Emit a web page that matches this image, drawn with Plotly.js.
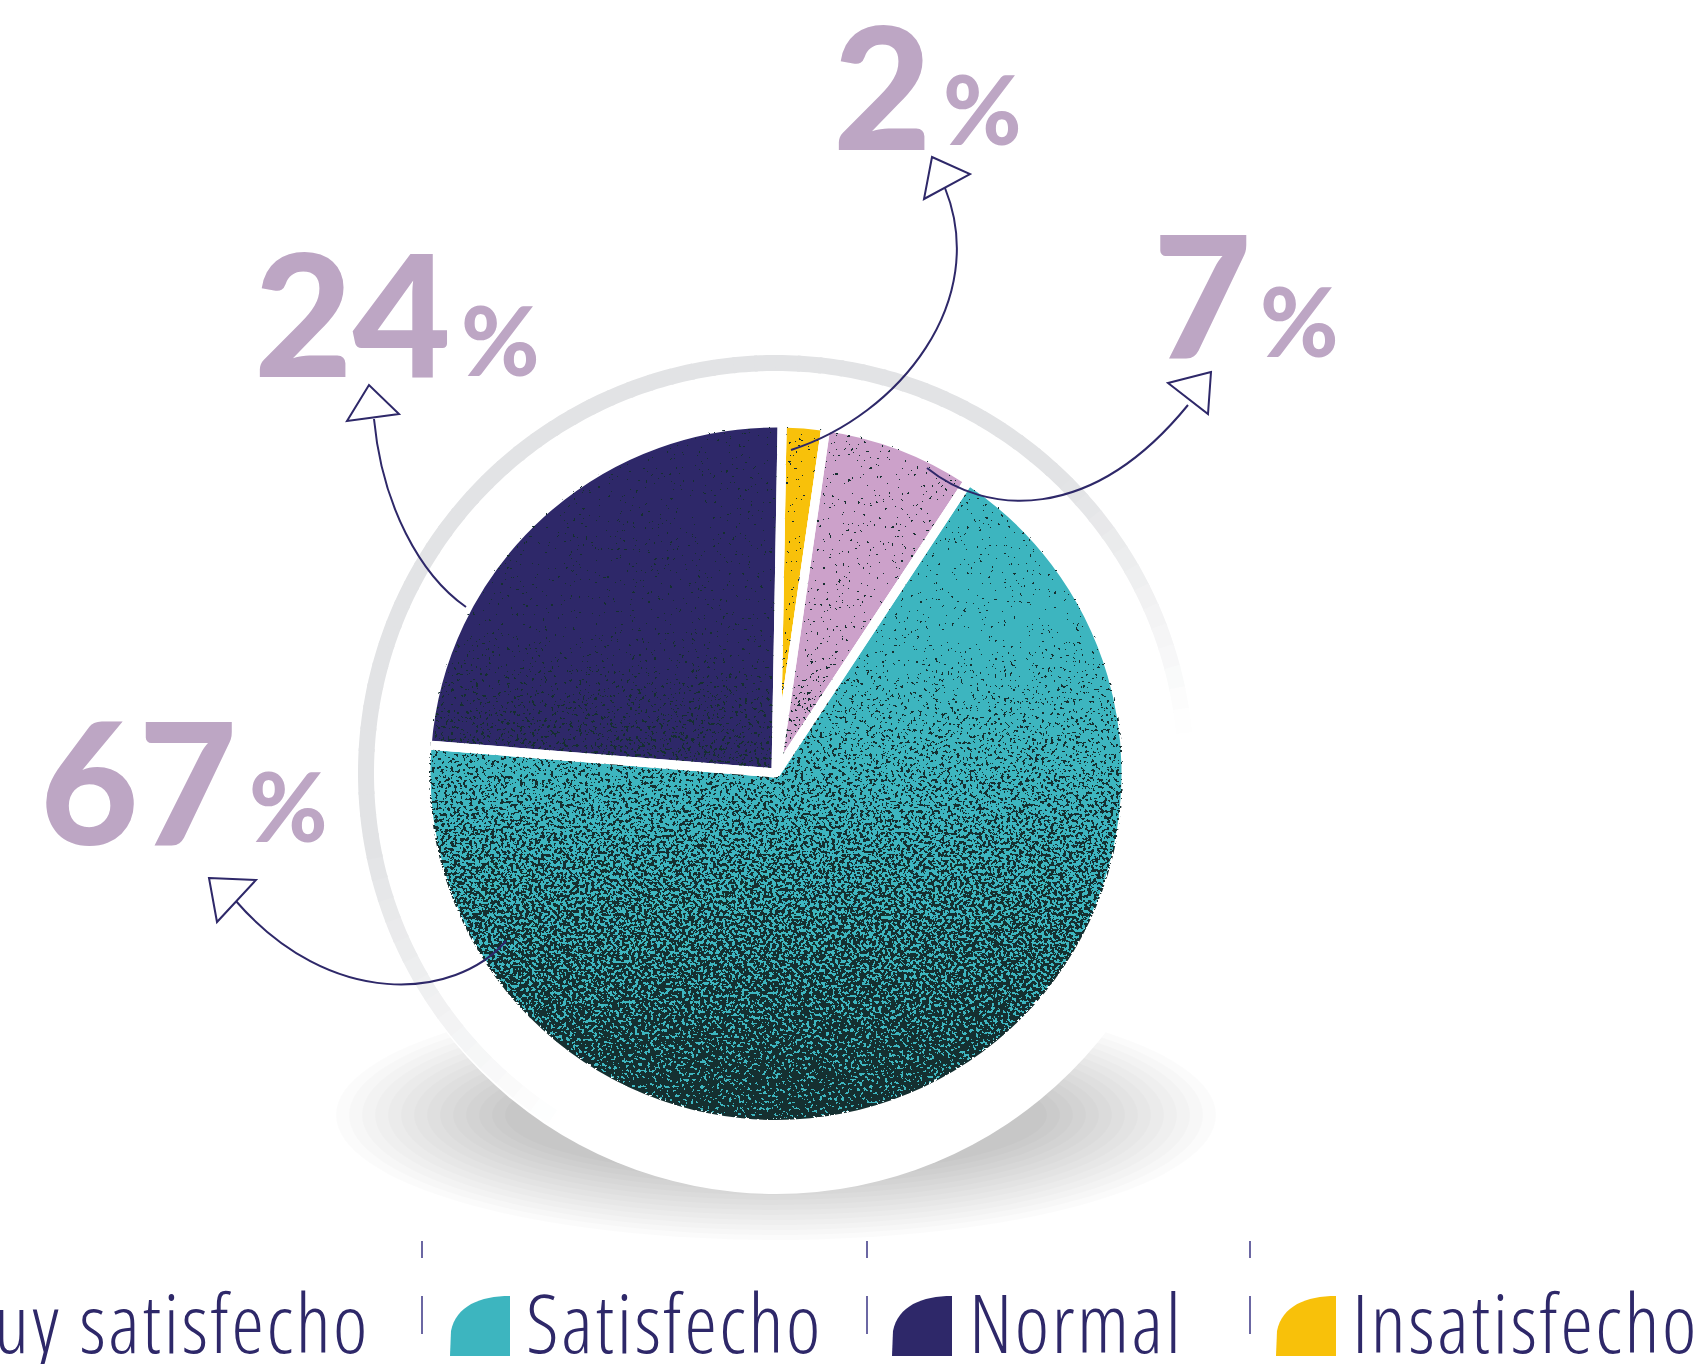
<!DOCTYPE html>
<html><head><meta charset="utf-8">
<script src="https://cdn.plot.ly/plotly-3.0.1.min.js"></script>
<style>html,body{margin:0;padding:0;background:#fff;}#chart{width:1700px;height:1364px;}</style>
</head><body><div id="chart"></div>
<script>
// ---- data ----
const categories = ['Insatisfecho', 'Muy satisfecho', 'Satisfecho', 'Normal'];
const shares = [2, 7, 67, 24];
const sliceColors = ['#F8C10A', '#CCA1CA', '#3DB5BF', '#2E2869'];
const valueLabels = ['2', '7', '67', '24'];
const legendItems = ['Muy satisfecho', 'Satisfecho', 'Normal', 'Insatisfecho'];
const legendColors = ['#CCA1CA', '#3DB5BF', '#2E2869', '#F8C10A'];

// ---- geometry helpers (page pixels -> paper) ----
const W = 1700, H = 1364;
const px = x => x / W;
const py = y => 1 - y / H;
const P = (x, y) => px(x).toFixed(5) + ',' + py(y).toFixed(5);
const NAVY = '#2E2869', LILAC = '#BDA6C4';

const cx = 776, cy = 773, R = 350;
const ROT = 1, GAP = 9;

const trace = {
  type: 'pie',
  labels: categories,
  values: shares,
  sort: false,
  direction: 'clockwise',
  rotation: ROT,
  textinfo: 'none',
  hoverinfo: 'label+percent',
  showlegend: false,
  domain: {x: [px(cx - R), px(cx + R)], y: [py(cy + R), py(cy - R)]},
  marker: {colors: sliceColors, line: {color: '#ffffff', width: GAP}}
};

// ---- grain texture overlay (decoration), with the slice gaps kept white ----
const total = shares.reduce((a, b) => a + b, 0);
let acc = 0, gapLines = '';
shares.forEach(v => {
  const th = (ROT + 360 * acc / total) * Math.PI / 180;
  gapLines += '<line x1="350" y1="350" x2="' + (350 + 360 * Math.sin(th)).toFixed(2) + '" y2="' +
    (350 - 360 * Math.cos(th)).toFixed(2) + '" stroke="#fff" stroke-width="' + GAP + '"/>';
  acc += v;
});
const grainSvg =
  '<svg xmlns="http://www.w3.org/2000/svg" width="700" height="700" viewBox="0 0 700 700">' +
  '<defs>' +
  '<linearGradient id="g" x1="0" y1="0" x2="0" y2="1">' +
  '<stop offset="0" stop-color="#000" stop-opacity="0"/>' +
  '<stop offset="0.3" stop-color="#000" stop-opacity="0"/>' +
  '<stop offset="0.5" stop-color="#000" stop-opacity="0.33"/>' +
  '<stop offset="0.62" stop-color="#000" stop-opacity="0.5"/>' +
  '<stop offset="0.82" stop-color="#000" stop-opacity="0.68"/>' +
  '<stop offset="1" stop-color="#000" stop-opacity="0.9"/>' +
  '</linearGradient>' +
  '<filter id="f" x="0" y="0" width="700" height="700" filterUnits="userSpaceOnUse" color-interpolation-filters="sRGB">' +
  '<feTurbulence type="fractalNoise" baseFrequency="0.32" numOctaves="2" seed="7" result="n"/>' +
  '<feColorMatrix in="n" type="matrix" values="0 0 0 0 0  0 0 0 0 0  0 0 0 0 0  2.4 0 0 0 -0.75" result="na"/>' +
  '<feComposite in="SourceGraphic" in2="na" operator="arithmetic" k1="0" k2="1" k3="1" k4="-0.5" result="s"/>' +
  '<feComponentTransfer in="s" result="t"><feFuncA type="discrete" tableValues="0 1"/></feComponentTransfer>' +
  '<feFlood flood-color="#152f30" result="c"/>' +
  '<feComposite in="c" in2="t" operator="in"/>' +
  '</filter>' +
  '<clipPath id="cp"><circle cx="350" cy="350" r="347"/></clipPath>' +
  '</defs>' +
  '<g clip-path="url(#cp)"><rect x="0" y="0" width="700" height="700" fill="url(#g)" filter="url(#f)"/>' +
  gapLines + '</g></svg>';

const images = [{
  source: 'data:image/svg+xml;charset=utf-8,' + encodeURIComponent(grainSvg),
  xref: 'paper', yref: 'paper', x: px(cx - R), y: py(cy - R),
  sizex: 2 * R / W, sizey: 2 * R / H, xanchor: 'left', yanchor: 'top',
  sizing: 'stretch', layer: 'above'
}];

const shapes = [];
// soft shadow under the white disk
for (let i = 0; i < 14; i++) {
  const rx = 440 - i * 13, ry = 125 - i * 5, scy = 1115;
  shapes.push({type: 'circle', layer: 'below', xref: 'paper', yref: 'paper',
    x0: px(cx - rx), x1: px(cx + rx), y0: py(scy + ry), y1: py(scy - ry),
    fillcolor: 'rgba(0,0,0,0.015)', line: {width: 0}});
}
// white disk
const RD = 417;
shapes.push({type: 'circle', layer: 'below', xref: 'paper', yref: 'paper',
  x0: px(cx - RD), x1: px(cx + RD), y0: py(cy + RD + 4), y1: py(cy - RD + 4),
  fillcolor: '#ffffff', line: {width: 0}});
// gray ring fading out at both ends
const RR = 410, ringC = [226, 227, 229];
function mix(t) {
  const c = ringC.map(v => Math.round(255 - (255 - v) * t));
  return 'rgb(' + c.join(',') + ')';
}
for (let a = -150; a < 90; a += 3) {
  const a2 = a + 3.4;
  const mid = a + 1.5;
  let t = 1;
  if (mid < -100) t = Math.max(0, (mid + 148) / 48);
  if (mid > 45) t = Math.max(0, (84 - mid) / 39);
  if (t <= 0.01) continue;
  let d = '';
  for (let k = 0; k <= 4; k++) {
    const th = (a + (a2 - a) * k / 4) * Math.PI / 180;
    const x = cx + RR * Math.sin(th), y = cy - RR * Math.cos(th);
    d += (k === 0 ? 'M' : 'L') + P(x, y);
  }
  shapes.push({type: 'path', layer: 'below', xref: 'paper', yref: 'paper', path: d,
    line: {color: mix(t), width: 16}});
}

// curved leader arrows
const arrows = [
  {c: [[466, 607], [420, 575], [382, 505], [374, 419]], head: [[369, 385], [347, 421], [399, 414]]},
  {c: [[791, 450], [900, 415], [990, 300], [945, 188]], head: [[932, 157], [924, 199], [970, 174]]},
  {c: [[927, 468], [985, 515], [1090, 525], [1188, 405]], head: [[1211, 372], [1168, 383], [1208, 414]]},
  {c: [[506, 941], [455, 1000], [330, 1010], [235, 900]], head: [[209, 878], [256, 880], [217, 922]]}
];
arrows.forEach(a => {
  shapes.push({type: 'path', layer: 'above', xref: 'paper', yref: 'paper',
    path: 'M' + P(...a.c[0]) + ' C' + P(...a.c[1]) + ' ' + P(...a.c[2]) + ' ' + P(...a.c[3]),
    line: {color: NAVY, width: 2}});
  shapes.push({type: 'path', layer: 'above', xref: 'paper', yref: 'paper',
    path: 'M' + P(...a.head[0]) + ' L' + P(...a.head[1]) + ' L' + P(...a.head[2]) + ' Z',
    fillcolor: '#ffffff', line: {color: NAVY, width: 2}});
});

// legend separators
const sepX = [422, 867, 1250];
sepX.forEach(x => {
  shapes.push({type: 'line', xref: 'paper', yref: 'paper', x0: px(x), x1: px(x), y0: py(1241), y1: py(1258),
    line: {color: '#6b67a3', width: 2}});
  shapes.push({type: 'line', xref: 'paper', yref: 'paper', x0: px(x), x1: px(x), y0: py(1296), y1: py(1334),
    line: {color: '#6b67a3', width: 2}});
});
// legend icons (quarter-round swatches)
const iconLeft = [5, 450, 892, 1276];
legendColors.forEach((col, i) => {
  if (i === 0) return; // off the left page edge in the original
  const l = iconLeft[i], r = l + 60, t = 1296, b = 1356;
  const d = 'M' + P(l, b) + ' L' + P(l + 1, b - 25) + ' C' + P(l + 6, t + 10) + ' ' + P(r - 30, t) + ' ' + P(r, t) +
    ' L' + P(r, b) + ' Z';
  shapes.push({type: 'path', xref: 'paper', yref: 'paper', path: d, fillcolor: col, line: {width: 0}});
});

const annotations = [];
const numFont = {family: 'Lato, "Open Sans", sans-serif', weight: 900, color: LILAC};
const numPos = [
  {n: [831, 84], p: [941, 108]},
  {n: [1151, 292], p: [1258, 320]},
  {n: [38, 779], p: [247, 805]},
  {n: [252, 311], p: [459, 339]}
];
valueLabels.forEach((v, i) => {
  const q = numPos[i];
  annotations.push({xref: 'paper', yref: 'paper', x: px(q.n[0]), y: py(q.n[1]), xanchor: 'left', yanchor: 'middle',
    text: v, showarrow: false, font: Object.assign({size: 170}, numFont)});
  annotations.push({xref: 'paper', yref: 'paper', x: px(q.p[0]), y: py(q.p[1]), xanchor: 'left', yanchor: 'middle',
    text: '%', showarrow: false, font: Object.assign({size: 95}, numFont)});
});
const legFont = {family: '"Open Sans", "DejaVu Sans Condensed", sans-serif', weight: 300, size: 82, color: NAVY};
const legText = [
  {x: 372, anchor: 'right'},
  {x: 524, anchor: 'left'},
  {x: 967, anchor: 'left'},
  {x: 1350, anchor: 'left'}
];
legendItems.forEach((t, i) => {
  annotations.push({xref: 'paper', yref: 'paper', x: px(legText[i].x), y: py(1321), xanchor: legText[i].anchor,
    yanchor: 'middle', text: '<span style="font-stretch:75%;letter-spacing:2.5px">' + t + '</span>',
    showarrow: false, font: legFont});
});

const layout = {
  width: W, height: H,
  margin: {l: 0, r: 0, t: 0, b: 0},
  paper_bgcolor: '#ffffff',
  showlegend: false,
  shapes: shapes,
  annotations: annotations,
  images: images
};
Plotly.newPlot('chart', [trace], layout, {displayModeBar: false, staticPlot: true});
</script>
</body></html>
